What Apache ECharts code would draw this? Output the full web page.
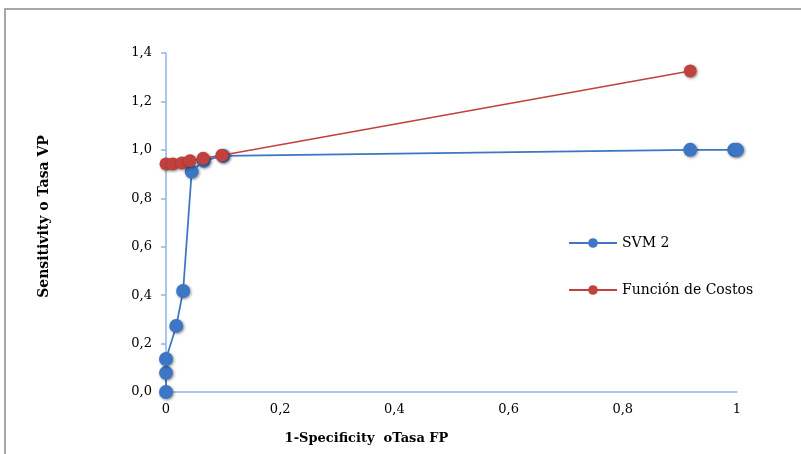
<!DOCTYPE html>
<html>
<head>
<meta charset="utf-8">
<script src="https://cdn.jsdelivr.net/npm/echarts@6/dist/echarts.min.js"></script>
<style>
    html, body { margin: 0; padding: 0; background: #fff; }
    #chart { width: 801px; height: 454px; }
</style>
</head>
<body>
<div id="chart"></div>
<script>
    //datos
    var seriesNames = ["SVM 2", "Función de Costos"];
    var svmFP = [0, 0, 0, 0.018, 0.030, 0.045, 0.066, 0.100, 0.918, 0.995, 1.0];
    var svmVP = [0, 0.079, 0.136, 0.273, 0.417, 0.910, 0.955, 0.975, 1.0, 1.0, 1.0];
    var costFP = [0, 0.012, 0.028, 0.042, 0.065, 0.098, 0.918];
    var costVP = [0.942, 0.942, 0.946, 0.955, 0.965, 0.978, 1.326];
    var xTicks = [0, 0.2, 0.4, 0.6, 0.8, 1];
    var yTicks = [0, 0.2, 0.4, 0.6, 0.8, 1.0, 1.2, 1.4];

    var font = "DejaVu Serif";
    var axisColor = "#8eb4e3";

    function pairs(xs, ys) {
        var out = [];
        for (var i = 0; i < xs.length; i++) out.push([xs[i], ys[i]]);
        return out;
    }
    function fmtX(v) {
        if (v === 0) return "0";
        if (v === 1) return "1";
        return v.toFixed(1).replace(".", ",");
    }
    function fmtY(v) {
        return v.toFixed(1).replace(".", ",");
    }

    var myChart = echarts.init(document.getElementById("chart"));
    var shadow = { shadowBlur: 3, shadowColor: "rgba(0,0,0,0.45)", shadowOffsetX: 1, shadowOffsetY: 1 };

    var option = {
        backgroundColor: "#fff",
        animation: false,
        textStyle: { fontFamily: font },
        grid: { left: 166, right: 64, top: 53, bottom: 62 },
        //marco gris del grafico (solo se ven borde superior e izquierdo)
        graphic: [{
            type: "rect",
            shape: { x: 5, y: 9, width: 900, height: 600 },
            style: { fill: "none", stroke: "#8a8a8a", lineWidth: 1.5 },
            silent: true
        }],
        legend: {
            orient: "vertical",
            left: 563,
            top: 231,
            itemWidth: 48,
            itemHeight: 12,
            itemGap: 33,
            textStyle: { fontFamily: font, fontSize: 14, color: "#000" },
            data: seriesNames
        },
        xAxis: {
            type: "value",
            min: xTicks[0],
            max: xTicks[xTicks.length - 1],
            interval: 0.2,
            name: "1-Specificity  oTasa FP",
            nameLocation: "middle",
            nameGap: 40,
            nameTextStyle: { fontFamily: font, fontWeight: "bold", fontSize: 13, color: "#000", padding: [0, 170, 0, 0] },
            axisLine: { lineStyle: { color: axisColor, width: 1.5 } },
            axisTick: { show: false },
            axisLabel: { formatter: fmtX, fontFamily: font, fontSize: 13, color: "#000", margin: 11 },
            splitLine: { show: false }
        },
        yAxis: {
            type: "value",
            min: yTicks[0],
            max: yTicks[yTicks.length - 1],
            interval: 0.2,
            name: "Sensitivity o Tasa VP",
            nameLocation: "middle",
            nameGap: 115,
            nameTextStyle: { fontFamily: font, fontWeight: "bold", fontSize: 14, color: "#000", padding: [0, 0, 0, 12] },
            axisLine: { show: true, lineStyle: { color: axisColor, width: 1.5 } },
            axisTick: { show: true, inside: false, length: 5, lineStyle: { color: axisColor, width: 1.5 } },
            axisLabel: { formatter: fmtY, fontFamily: font, fontSize: 13, color: "#000", margin: 14 },
            splitLine: { show: false }
        },
        series: [{
            name: seriesNames[0],
            type: "line",
            data: pairs(svmFP, svmVP),
            symbol: "circle",
            symbolSize: 14,
            lineStyle: { color: "#3d76c4", width: 1.75 },
            itemStyle: Object.assign({ color: "#3d76c4" }, shadow),
            z: 2
        }, {
            name: seriesNames[1],
            type: "line",
            data: pairs(costFP, costVP),
            symbol: "circle",
            symbolSize: 13,
            lineStyle: { color: "#c0413d", width: 1.5 },
            itemStyle: Object.assign({ color: "#c0413d" }, shadow),
            z: 3
        }]
    };
    myChart.setOption(option);
</script>
</body>
</html>
